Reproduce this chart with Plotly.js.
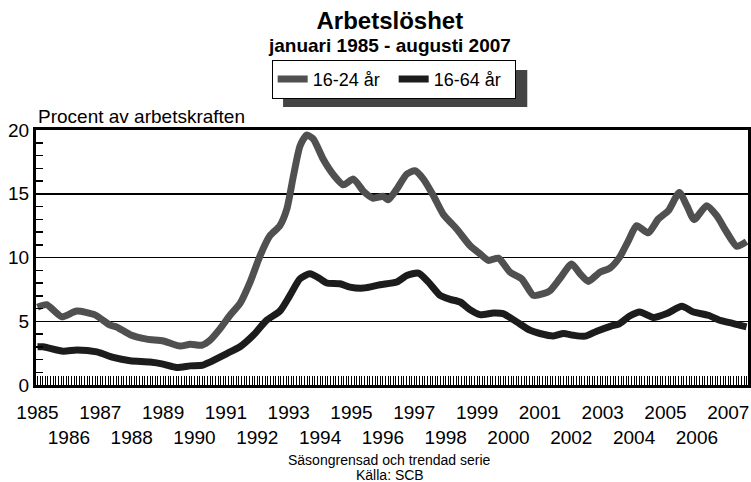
<!DOCTYPE html>
<html>
<head>
<meta charset="utf-8">
<script src="https://cdn.plot.ly/plotly-3.0.1.min.js"></script>
<style>
  html, body { margin: 0; padding: 0; background: #fff; }
  #chart { width: 751px; height: 482px; }
</style>
</head>
<body>
<div id="chart"></div>
<script>
// Decimal year positions and values (percent of labour force)
const youthYears = [1985.00, 1985.29, 1985.77, 1986.25, 1986.83, 1987.31, 1987.52, 1987.95, 1988.48, 1989.01,
  1989.54, 1989.86, 1990.23, 1990.49, 1990.81, 1991.13, 1991.45, 1991.77, 1992.09, 1992.40,
  1992.72, 1992.94, 1993.15, 1993.36, 1993.57, 1993.78, 1994.10, 1994.42, 1994.74, 1995.06,
  1995.38, 1995.69, 1996.01, 1996.17, 1996.44, 1996.76, 1997.02, 1997.29, 1997.61, 1997.92,
  1998.35, 1998.77, 1999.09, 1999.36, 1999.68, 2000.05, 2000.42, 2000.79, 2001.11, 2001.32,
  2001.63, 2002.01, 2002.28, 2002.54, 2002.91, 2003.23, 2003.54, 2003.82, 2004.08, 2004.45,
  2004.77, 2005.09, 2005.44, 2005.68, 2005.91, 2006.31, 2006.63, 2006.95, 2007.27, 2007.58];
const youthValues = [6.1, 6.3, 5.35, 5.8, 5.5, 4.7, 4.55, 3.95, 3.6, 3.45,
  3.05, 3.2, 3.12, 3.5, 4.4, 5.47, 6.4, 8.07, 10.15, 11.7,
  12.5, 13.8, 16.4, 18.75, 19.6, 19.3, 17.7, 16.5, 15.7, 16.15,
  15.2, 14.65, 14.8, 14.53, 15.36, 16.54, 16.8, 16.15, 14.84, 13.4,
  12.24, 10.94, 10.29, 9.77, 9.95, 8.85, 8.33, 7.03, 7.16, 7.4,
  8.33, 9.5, 8.72, 8.12, 8.85, 9.17, 10.03, 11.33, 12.5, 11.93,
  13.02, 13.67, 15.1, 14.06, 12.97, 14.06, 13.28, 11.98, 10.88, 11.25];

const totalYears = [1985.00, 1985.18, 1985.82, 1986.25, 1986.89, 1987.41, 1987.95, 1988.58, 1989.00, 1989.43,
  1989.86, 1990.27, 1990.49, 1991.03, 1991.45, 1991.87, 1992.30, 1992.72, 1993.04, 1993.36,
  1993.68, 1994.00, 1994.21, 1994.63, 1994.95, 1995.38, 1995.91, 1996.44, 1996.76, 1997.13,
  1997.45, 1997.82, 1998.14, 1998.46, 1998.77, 1999.09, 1999.52, 1999.83, 2000.26, 2000.68,
  2001.00, 2001.43, 2001.75, 2002.07, 2002.44, 2002.81, 2003.24, 2003.54, 2003.86, 2004.18,
  2004.61, 2005.04, 2005.52, 2005.89, 2006.36, 2006.73, 2007.16, 2007.58];
const totalValues = [3.0, 3.0, 2.65, 2.75, 2.6, 2.16, 1.9, 1.8, 1.64, 1.38,
  1.5, 1.56, 1.8, 2.47, 3.0, 3.9, 5.08, 5.8, 7.03, 8.33,
  8.72, 8.33, 8.0, 7.94, 7.68, 7.6, 7.86, 8.07, 8.59, 8.77,
  8.07, 7.03, 6.72, 6.51, 5.91, 5.52, 5.65, 5.6, 4.95, 4.3,
  4.04, 3.85, 4.04, 3.9, 3.83, 4.22, 4.6, 4.82, 5.41, 5.73,
  5.29, 5.6, 6.17, 5.73, 5.47, 5.08, 4.82, 4.56];

const seriesNames = ['16-24 år', '16-64 år'];
const tickYears = [1985, 1986, 1987, 1988, 1989, 1990, 1991, 1992, 1993, 1994, 1995, 1996,
  1997, 1998, 1999, 2000, 2001, 2002, 2003, 2004, 2005, 2006, 2007];
const yTicks = [0, 5, 10, 15, 20];

const FONT = 'Arial, "Liberation Sans", sans-serif';

const traces = [
  { x: youthYears, y: youthValues, name: seriesNames[0], type: 'scatter', mode: 'lines',
    line: { color: '#505050', width: 7, shape: 'spline', smoothing: 0.6 } },
  { x: totalYears, y: totalValues, name: seriesNames[1], type: 'scatter', mode: 'lines',
    line: { color: '#1c1c1c', width: 7, shape: 'spline', smoothing: 0.6 } }
];

// odd years on the first label row, even years on the second row
const tickText = tickYears.map((y, i) => (i % 2 === 0 ? String(y) : '<br>' + y));

const layout = {
  width: 751, height: 482,
  margin: { l: 36, r: 3, t: 130, b: 97, pad: 0 },
  paper_bgcolor: '#fff', plot_bgcolor: '#fff',
  font: { family: FONT, color: '#000', size: 19 },
  title: { text: '<b>Arbetslöshet</b>', font: { family: FONT, size: 24, color: '#000' },
    xref: 'paper', x: 0.497, xanchor: 'center', yref: 'container', y: 0.958, yanchor: 'middle' },
  showlegend: true,
  legend: { orientation: 'h', x: 0.331, xanchor: 'left', y: 1.275, yanchor: 'top',
    bgcolor: '#fff', bordercolor: '#000', borderwidth: 1,
    font: { family: FONT, size: 18, color: '#000' }, itemwidth: 30, tracegroupgap: 0,
    entrywidth: 76, entrywidthmode: 'pixels' },
  xaxis: {
    range: [1984.952, 2007.627], type: 'linear',
    tickmode: 'array', tickvals: tickYears, ticktext: tickText, tickangle: 0,
    ticks: 'inside', ticklen: 9, tickwidth: 1, tickcolor: '#000',
    ticklabelstandoff: 8, automargin: false,
    tickfont: { family: FONT, size: 19, color: '#000' },
    minor: { tickmode: 'linear', tick0: 1985, dtick: 1 / 12, ticks: 'inside', ticklen: 9, tickwidth: 1, tickcolor: '#000' },
    showgrid: false, zeroline: false,
    showline: true, linecolor: '#000', linewidth: 3, mirror: true
  },
  yaxis: {
    range: [0, 20], tickmode: 'array', tickvals: yTicks, automargin: false,
    ticks: 'inside', ticklen: 7, tickwidth: 1.5, tickcolor: '#000',
    tickfont: { family: FONT, size: 19, color: '#000' },
    minor: { tickmode: 'linear', tick0: 0, dtick: 1, ticks: 'inside', ticklen: 7, tickwidth: 1.5, tickcolor: '#000', showgrid: false },
    showgrid: true, gridcolor: '#000', gridwidth: 1.5, zeroline: false,
    showline: true, linecolor: '#000', linewidth: 3, mirror: true
  },
  shapes: [
    // legend drop shadow
    { type: 'rect', xref: 'paper', yref: 'paper', x0: 0.347, x1: 0.690, y0: 1.090, y1: 1.235,
      fillcolor: '#444', line: { width: 0 }, layer: 'above' }
  ],
  annotations: [
    { text: '<b>januari 1985 - augusti 2007</b>', xref: 'paper', yref: 'paper', x: 0.497, y: 1.333,
      xanchor: 'center', yanchor: 'middle', showarrow: false, font: { family: FONT, size: 19, color: '#000' } },
    { text: 'Procent av arbetskraften', xref: 'paper', yref: 'paper', x: 0.0, y: 1.051,
      xanchor: 'left', yanchor: 'middle', showarrow: false, font: { family: FONT, size: 19, color: '#000' } },
    { text: 'Säsongrensad och trendad serie', xref: 'paper', yref: 'paper', x: 0.497, y: -0.294,
      xanchor: 'center', yanchor: 'middle', showarrow: false, font: { family: FONT, size: 14, color: '#000' } },
    { text: 'Källa: SCB', xref: 'paper', yref: 'paper', x: 0.497, y: -0.353,
      xanchor: 'center', yanchor: 'middle', showarrow: false, font: { family: FONT, size: 14, color: '#000' } }
  ]
};

Plotly.newPlot('chart', traces, layout, { staticPlot: true, displayModeBar: false });
</script>
</body>
</html>
